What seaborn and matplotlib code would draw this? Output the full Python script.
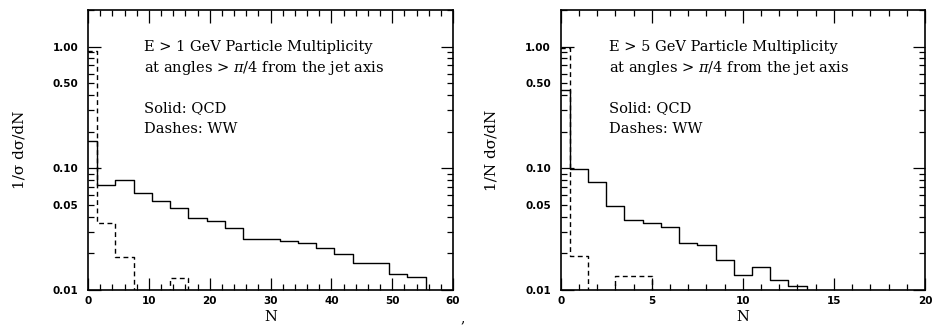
import numpy as np
import matplotlib
matplotlib.use("Agg")
import matplotlib.pyplot as plt
import seaborn as sns
from matplotlib.ticker import FixedLocator, FuncFormatter, MultipleLocator

# ---- data ----
# left panel: E > 1 GeV, bins of width 3 (last bin empty, closes the step)
left_edges = [-1.5, 1.5, 4.5, 7.5, 10.5, 13.5, 16.5, 19.5, 22.5, 25.5, 28.5,
              31.5, 34.5, 37.5, 40.5, 43.5, 46.5, 49.5, 52.5, 55.5, 58.5]
left_qcd = [0.169, 0.0728, 0.080, 0.0628, 0.054, 0.0476, 0.0389, 0.0370,
            0.0322, 0.0261, 0.0261, 0.0252, 0.0244, 0.0220, 0.0198, 0.0168,
            0.0168, 0.0135, 0.0128, 0.0]
left_ww = [0.914, 0.0354, 0.0186, 0.0, 0.0, 0.0126, 0.0, 0.0, 0.0, 0.0,
           0.0, 0.0, 0.0, 0.0, 0.0, 0.0, 0.0, 0.0, 0.0, 0.0]

# right panel: E > 5 GeV, bins of width 1
right_edges = [-0.5, 0.5, 1.5, 2.5, 3.5, 4.5, 5.5, 6.5, 7.5, 8.5, 9.5,
               10.5, 11.5, 12.5, 13.5, 14.5]
right_qcd = [0.44, 0.099, 0.077, 0.0494, 0.0377, 0.0354, 0.0328, 0.0242,
             0.0236, 0.0177, 0.0133, 0.0155, 0.0120, 0.0107, 0.0]
right_ww_edges = [-0.5, 0.5, 1.5, 3.0, 5.0, 7.0]
right_ww = [0.97, 0.0192, 0.0, 0.0131, 0.0]

title1 = ["E > 1 GeV Particle Multiplicity", "E > 5 GeV Particle Multiplicity"]
title2 = r"at angles > $\pi$/4 from the jet axis"
ylabels = ["1/σ dσ/dN", "1/N dσ/dN"]

sns.set_style("ticks")
plt.rcParams["font.family"] = ["DejaVu Serif"]
plt.rcParams["mathtext.fontset"] = "dejavuserif"
plt.rcParams["text.color"] = "black"
plt.rcParams["axes.labelcolor"] = "black"
plt.rcParams["xtick.color"] = "black"
plt.rcParams["ytick.color"] = "black"

fig = plt.figure(figsize=(9.32, 3.26), dpi=100)
ax1 = fig.add_axes([88 / 932, 1 - 290 / 326, 365 / 932, 280 / 326])
ax2 = fig.add_axes([560.7 / 932, 1 - 290 / 326, 364.3 / 932, 280 / 326])

def step(ax, edges, vals, dashed=False):
    kw = dict(color="black", linewidth=1.0)
    if dashed:
        kw["linestyle"] = (0, (3.5, 2.5))
    sns.histplot(x=edges[:-1], weights=vals, bins=edges, element="step",
                 fill=False, ax=ax, **kw)

step(ax1, left_edges, left_qcd)
step(ax1, left_edges, left_ww, dashed=True)
step(ax2, right_edges, right_qcd)
step(ax2, right_ww_edges, right_ww, dashed=True)

def minor_lab(v, pos):
    for t, s in [(0.05, "0.05"), (0.5, "0.50")]:
        if abs(v - t) < 1e-6:
            return s
    return ""

tickfont = dict(family="DejaVu Sans", weight="bold", size=7.5)

for i, (ax, xmax) in enumerate([(ax1, 60), (ax2, 20)]):
    ax.set_yscale("log", nonpositive="clip")
    ax.set_xlim(0, xmax)
    ax.set_ylim(0.01, 2.0)
    ax.yaxis.set_major_locator(FixedLocator([0.01, 0.1, 1.0]))
    ax.yaxis.set_major_formatter(FuncFormatter(lambda v, p: "%.2f" % v))
    mins = [m * d for d in (0.01, 0.1, 1.0) for m in range(2, 10)]
    ax.yaxis.set_minor_locator(FixedLocator(mins))
    ax.yaxis.set_minor_formatter(FuncFormatter(minor_lab))
    if xmax == 60:
        ax.xaxis.set_major_locator(MultipleLocator(10))
        ax.xaxis.set_minor_locator(MultipleLocator(2))
    else:
        ax.xaxis.set_major_locator(MultipleLocator(5))
        ax.xaxis.set_minor_locator(MultipleLocator(1))
    ax.tick_params(which="both", direction="in", top=True, right=True,
                   color="black", labelcolor="black", width=0.9)
    ax.tick_params(which="major", length=9)
    ax.tick_params(which="minor", length=4)
    ax.tick_params(axis="y", which="both", pad=7)
    ax.tick_params(axis="x", which="both", pad=4)
    for lab in ax.get_xticklabels() + ax.get_yticklabels() + \
            ax.get_yticklabels(minor=True):
        lab.set_fontproperties(matplotlib.font_manager.FontProperties(**tickfont))
    for sp in ax.spines.values():
        sp.set_visible(True)
        sp.set_linewidth(1.2)
        sp.set_color("black")
    ax.set_xlabel("N", fontsize=10.5, labelpad=3)
    ax.set_ylabel(ylabels[i], fontsize=11, labelpad=19)

    tx = 0.153 if i == 0 else 0.133
    ax.text(tx, 0.868, title1[i], transform=ax.transAxes, fontsize=10.5,
            va="center", ha="left")
    ax.text(tx, 0.793, title2, transform=ax.transAxes, fontsize=10.5,
            va="center", ha="left")
    ax.text(tx, 0.65, "Solid: QCD", transform=ax.transAxes, fontsize=10.5,
            va="center", ha="left")
    ax.text(tx, 0.575, "Dashes: WW", transform=ax.transAxes, fontsize=10.5,
            va="center", ha="left")

fig.text(463 / 932, 1 - 318 / 326, ",", fontsize=10, ha="center", va="center")

fig.savefig("out.png", dpi=100)
